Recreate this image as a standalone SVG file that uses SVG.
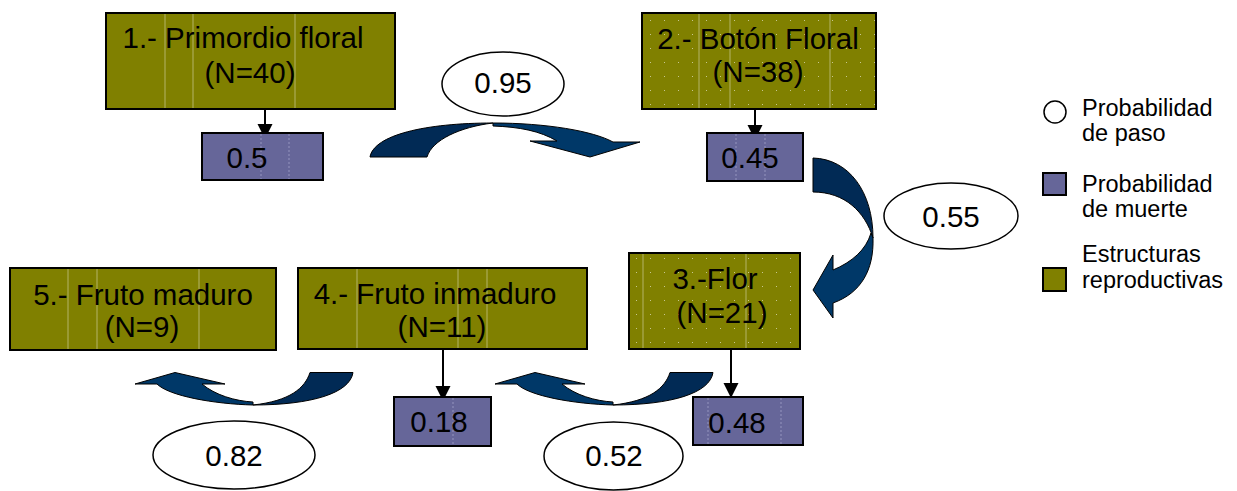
<svg xmlns="http://www.w3.org/2000/svg" width="1237" height="491" viewBox="0 0 1237 491">
<defs>
<style>
.box{fill:#808000;stroke:#000;stroke-width:2}
.dbox{fill:#666699;stroke:#000;stroke-width:2}
.ell{fill:#fff;stroke:#000;stroke-width:1.5}
.t{font-family:"Liberation Sans",Arial,sans-serif;font-size:29.5px;fill:#000;text-anchor:middle}
.lg{font-family:"Liberation Sans",Arial,sans-serif;font-size:23.5px;fill:#000}
.tex{stroke:#d8d8b0;stroke-width:1;opacity:0.6}
.dtex{stroke:#a0a0c8;stroke-width:1;stroke-dasharray:2 2;opacity:0.8}
.back{fill:#012a55;stroke:#000;stroke-width:1}
.front{fill:#003868;stroke:#000;stroke-width:1}
.cl{stroke:#000;stroke-width:2}
</style>
<pattern id="dots" width="14" height="14" patternUnits="userSpaceOnUse">
<rect x="6" y="6" width="1" height="1" fill="#c8c890"/>
</pattern>
</defs>
<rect width="1237" height="491" fill="#fff"/>

<g id="connectors">
<line class="cl" x1="265" y1="110" x2="265" y2="126"/>
<polygon points="257.5,124 272.5,124 265,139"/>
<line class="cl" x1="755" y1="110" x2="755" y2="126"/>
<polygon points="747.5,125 762.5,125 755,140"/>
<line class="cl" x1="443" y1="350" x2="443" y2="388"/>
<polygon points="435.5,386 450.5,386 443,401"/>
<line class="cl" x1="731" y1="350" x2="731" y2="385"/>
<polygon points="723.5,383 738.5,383 731,398"/>
<!-- curved arrow 0.95 -->
<path class="back" d="M370,157 C374,135 425,123 493,123 C460,127 432,140 427,157 Z"/>
<path class="front" d="M493,123 C546,123 593,131 613,142 L640,142 L590,157 L530,141 L557,141 C540,131 520,127 493,126 Z"/>
<!-- curved arrow 0.55 -->
<path class="back" d="M813,158 C849,159 873,192 873,238 C865,212 845,192 813,192 Z"/>
<path class="front" d="M873,238 C874,270 861,293 833,303 L833,318 L813,290 L833,255 L833,270 C852,262 866,250 871,233 Z"/>
<!-- curved arrow 0.82 -->
<path class="back" d="M310,372.5 L353,372.5 C350,393 312,405 253,405 C290,401 305,388 310,372.5 Z"/>
<path class="front" d="M253,405 C214,404 169,396 157,384 L135,384 L175,372.5 L225,384 L202,384 C215,395 235,401 253,402 Z"/>
<!-- curved arrow 0.52 -->
<path class="back" d="M670,372.5 L713,372.5 C710,393 672,405 613,405 C650,401 665,388 670,372.5 Z"/>
<path class="front" d="M613,405 C574,404 529,396 517,384 L495,384 L535,372.5 L585,384 L562,384 C575,395 595,401 613,402 Z"/>
</g>

<g id="n1">
<rect class="box" x="106" y="13" width="289" height="96"/>
<line class="tex" x1="165" y1="14" x2="165" y2="108"/><line class="tex" x1="193" y1="14" x2="193" y2="108"/><line class="tex" x1="295" y1="14" x2="295" y2="108"/>
<text class="t" x="243" y="48">1.- Primordio floral</text>
<text class="t" x="250" y="83">(N=40)</text>
</g>
<g id="d1">
<rect class="dbox" x="202" y="133" width="121" height="47"/>
<line class="dtex" x1="261" y1="134" x2="261" y2="179"/><line class="dtex" x1="289" y1="134" x2="289" y2="179"/>
<text class="t" x="247" y="168">0.5</text>
</g>
<g id="n2">
<rect class="box" x="642" y="13" width="234" height="96"/>
<rect x="643" y="14" width="232" height="94" fill="url(#dots)"/>
<line class="tex" x1="699" y1="14" x2="699" y2="108"/><line class="tex" x1="730" y1="14" x2="730" y2="108"/><line class="tex" x1="830" y1="14" x2="830" y2="108"/>
<text class="t" x="758" y="49">2.- Botón Floral</text>
<text class="t" x="758" y="82">(N=38)</text>
</g>
<g id="d2">
<rect class="dbox" x="707" y="133" width="96" height="48"/>
<line class="dtex" x1="736" y1="134" x2="736" y2="180"/><line class="dtex" x1="765" y1="134" x2="765" y2="180"/>
<text class="t" x="750" y="168">0.45</text>
</g>
<g id="n3">
<rect class="box" x="629" y="253" width="171" height="96"/>
<rect x="630" y="254" width="169" height="94" fill="url(#dots)"/>
<line class="tex" x1="643" y1="254" x2="643" y2="348"/><line class="tex" x1="746" y1="254" x2="746" y2="348"/>
<text class="t" x="715" y="289">3.-Flor</text>
<text class="t" x="722" y="323">(N=21)</text>
</g>
<g id="d3">
<rect class="dbox" x="693" y="397" width="110" height="48"/>
<line class="dtex" x1="708" y1="398" x2="708" y2="444"/><line class="dtex" x1="781" y1="398" x2="781" y2="444"/>
<text class="t" x="737" y="433">0.48</text>
</g>
<g id="n4">
<rect class="box" x="298" y="268" width="289" height="81"/>
<line class="tex" x1="357" y1="269" x2="357" y2="348"/><line class="tex" x1="458" y1="269" x2="458" y2="348"/><line class="tex" x1="487" y1="269" x2="487" y2="348"/>
<text class="t" x="435" y="304">4.- Fruto inmaduro</text>
<text class="t" x="442" y="337">(N=11)</text>
</g>
<g id="d4">
<rect class="dbox" x="394" y="397" width="97" height="49"/>
<line class="dtex" x1="453" y1="398" x2="453" y2="445"/>
<text class="t" x="439" y="432">0.18</text>
</g>
<g id="n5">
<rect class="box" x="10" y="268" width="266" height="82"/>
<line class="tex" x1="68" y1="269" x2="68" y2="349"/><line class="tex" x1="97" y1="269" x2="97" y2="349"/><line class="tex" x1="199" y1="269" x2="199" y2="349"/>
<text class="t" x="143" y="305">5.- Fruto maduro</text>
<text class="t" x="142" y="337">(N=9)</text>
</g>
<g id="p095">
<ellipse class="ell" cx="503" cy="84" rx="61" ry="32"/>
<text class="t" x="503" y="93">0.95</text>
</g>
<g id="p055">
<ellipse class="ell" cx="951" cy="216" rx="67" ry="33"/>
<text class="t" x="951" y="227">0.55</text>
</g>
<g id="p082">
<ellipse class="ell" cx="234" cy="455" rx="81" ry="34"/>
<text class="t" x="234" y="466">0.82</text>
</g>
<g id="p052">
<ellipse class="ell" cx="613.5" cy="456" rx="69.5" ry="34"/>
<text class="t" x="614" y="466">0.52</text>
</g>
<g id="legend">
<circle cx="1055" cy="112" r="11" fill="#fff" stroke="#000" stroke-width="1.5"/>
<text class="lg" x="1082" y="116">Probabilidad</text>
<text class="lg" x="1082" y="141">de paso</text>
<rect class="dbox" x="1043" y="173" width="23" height="22"/>
<text class="lg" x="1082" y="192">Probabilidad</text>
<text class="lg" x="1082" y="217">de muerte</text>
<rect class="box" x="1043" y="268" width="23" height="23"/>
<text class="lg" x="1082" y="262">Estructuras</text>
<text class="lg" x="1082" y="288">reproductivas</text>
</g>
</svg>
